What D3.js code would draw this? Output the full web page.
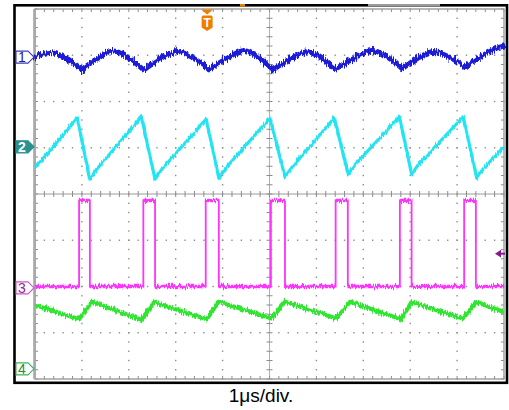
<!DOCTYPE html>
<html><head><meta charset="utf-8">
<script src="https://cdn.jsdelivr.net/npm/d3@7"></script>
<style>html,body{margin:0;padding:0;background:#fff;}svg{display:block}</style>
</head><body>
<svg id="c" width="509" height="410"></svg>
<script>
// ---------- data (time in µs, amplitude in screen divisions) ----------
const timeDomain = [-5, 5];
const divDomain = [-4, 4];
const timeLabel = "1μs/div.";

// Channel 1 (blue)
const ch1 = [[-5.00,2.96],[-4.68,3.06],[-4.34,2.94],[-4.00,2.69],[-3.68,2.92],[-3.34,3.09],[-3.02,2.95],
  [-2.68,2.68],[-2.34,2.92],[-1.97,3.08],[-1.63,2.94],[-1.29,2.69],[-0.93,2.92],[-0.54,3.10],[-0.25,2.96],
  [0.08,2.69],[0.44,2.92],[0.80,3.07],[1.10,2.94],[1.40,2.70],[1.78,2.92],[2.19,3.10],[2.51,2.96],
  [2.83,2.71],[3.17,2.94],[3.49,3.08],[3.83,2.96],[4.17,2.74],[4.49,2.96],[4.81,3.14],[5.00,3.20]];
const ch1Cusps = [-4.00,-2.68,-1.29,0.08,1.40,2.83,4.17];

// Channel 2 (cyan)
const ch2 = [[-5.00,0.56],[-4.10,1.64],[-3.83,0.32],[-3.68,0.54],[-2.73,1.67],[-2.44,0.32],[-2.29,0.54],
  [-1.35,1.62],[-1.08,0.34],[-0.91,0.59],[0.01,1.64],[0.33,0.37],[0.48,0.58],[1.38,1.64],[1.68,0.43],
  [1.82,0.63],[2.77,1.67],[3.03,0.43],[3.17,0.63],[4.13,1.67],[4.42,0.34],[4.55,0.54],[5.00,1.02]];

// Channel 3 (magenta) pulse edges
const ch3Rise = [-4.06,-2.69,-1.36,0.03,1.41,2.78,4.15];
const ch3Fall = [-3.83,-2.44,-1.08,0.33,1.67,3.03,4.40];
const ch3Low = -2.00;
const ch3High = -0.14;

// Channel 4 (green)
const ch4 = [[-5.00,-2.40],[-4.06,-2.71],[-3.79,-2.33],[-2.73,-2.72],[-2.46,-2.34],[-1.34,-2.71],[-1.09,-2.33],
  [0.05,-2.69],[0.33,-2.33],[1.43,-2.69],[1.72,-2.33],[2.80,-2.71],[3.03,-2.34],[4.12,-2.69],[4.42,-2.34],[5.00,-2.55]];

const markerLabels = ["1","2","3","4"];
const markerLevels = [2.96, 1.02, -2.03, -3.78];
const triggerTime = -1.33;
const triggerLevel = -1.29;

// ---------- drawing ----------
const svg = d3.select("#c");
const G = {l:35, r:504, t:9, b:379};
const x = d3.scaleLinear().domain(timeDomain).range([G.l, G.r]);
const y = d3.scaleLinear().domain(divDomain).range([G.b, G.t]);

// noise filters (vertical jitter only)
const defs = svg.append("defs");
function jitter(id, seed, scale){
  const f = defs.append("filter").attr("id", id).attr("filterUnits","userSpaceOnUse")
    .attr("x",0).attr("y",0).attr("width",509).attr("height",410)
    .attr("color-interpolation-filters","sRGB");
  f.append("feTurbulence").attr("type","fractalNoise").attr("baseFrequency","1.1 0.1")
    .attr("numOctaves",2).attr("seed",seed).attr("result","n");
  f.append("feColorMatrix").attr("in","n").attr("type","matrix")
    .attr("values","0 0 0 0 0.5  0 1 0 0 0  0 0 1 0 0  0 0 0 0 1").attr("result","m");
  f.append("feDisplacementMap").attr("in","SourceGraphic").attr("in2","m")
    .attr("scale",scale).attr("xChannelSelector","R").attr("yChannelSelector","G");
}
jitter("j1",3,9); jitter("j2",7,6); jitter("j3",11,7); jitter("j4",17,7);

// outer frame
svg.append("rect").attr("x",14.5).attr("y",5.3).attr("width",492.5).attr("height",377.5)
  .attr("fill","none").attr("stroke","#000").attr("stroke-width",2.6);
svg.append("rect").attr("x",368).attr("y",4).attr("width",72).attr("height",2.4).attr("fill","#9a9a9a");
svg.append("rect").attr("x",240).attr("y",4).attr("width",5).attr("height",2.6).attr("fill","#f07d00");

const grid = svg.append("g");
const minorX = d3.range(-5, 5.0001, 0.2).map(v => +v.toFixed(2));
const minorY = d3.range(-4, 4.0001, 0.2).map(v => +v.toFixed(2));
const majorX = d3.range(-4, 5, 1).filter(v => v !== 0);
const majorY = d3.range(-3, 4, 1).filter(v => v !== 0);
const dotC = "#8c8c8c";
majorX.forEach(mx => minorY.forEach(my => {
  grid.append("rect").attr("x", x(mx)-0.7).attr("y", y(my)-0.7).attr("width",1.4).attr("height",1.4).attr("fill",dotC);
}));
majorY.forEach(my => minorX.forEach(mx => {
  grid.append("rect").attr("x", x(mx)-0.7).attr("y", y(my)-0.7).attr("width",1.4).attr("height",1.4).attr("fill",dotC);
}));
grid.append("line").attr("x1",G.l).attr("x2",G.r).attr("y1",y(0)).attr("y2",y(0)).attr("stroke","#9a9a9a").attr("stroke-width",1);
grid.append("line").attr("y1",G.t).attr("y2",G.b).attr("x1",x(0)).attr("x2",x(0)).attr("stroke","#b0b0b0").attr("stroke-width",1);
minorX.forEach(mx => {
  grid.append("line").attr("x1",x(mx)).attr("x2",x(mx)).attr("y1",y(0)-3).attr("y2",y(0)+3).attr("stroke","#8c8c8c").attr("stroke-width",1);
  grid.append("line").attr("x1",x(mx)).attr("x2",x(mx)).attr("y1",G.t).attr("y2",G.t+3).attr("stroke","#8c8c8c").attr("stroke-width",1);
  grid.append("line").attr("x1",x(mx)).attr("x2",x(mx)).attr("y1",G.b-3).attr("y2",G.b).attr("stroke","#8c8c8c").attr("stroke-width",1);
});
minorY.forEach(my => {
  grid.append("line").attr("y1",y(my)).attr("y2",y(my)).attr("x1",x(0)-3).attr("x2",x(0)+3).attr("stroke","#8c8c8c").attr("stroke-width",1);
  grid.append("line").attr("y1",y(my)).attr("y2",y(my)).attr("x1",G.l).attr("x2",G.l+3).attr("stroke","#8c8c8c").attr("stroke-width",1);
  grid.append("line").attr("y1",y(my)).attr("y2",y(my)).attr("x1",G.r-3).attr("x2",G.r).attr("stroke","#8c8c8c").attr("stroke-width",1);
});
grid.append("rect").attr("x",G.l).attr("y",G.t).attr("width",G.r-G.l).attr("height",G.b-G.t)
  .attr("fill","none").attr("stroke","#9a9a9a").attr("stroke-width",1.4);
grid.append("line").attr("x1",G.l-0.5).attr("x2",G.l-0.5).attr("y1",G.t).attr("y2",G.b).attr("stroke","#a8a8a8").attr("stroke-width",2.6);

// traces
const lineLin = d3.line().x(d => x(d[0])).y(d => y(d[1]));
const lineCurve = d3.line().x(d => x(d[0])).y(d => y(d[1])).curve(d3.curveCatmullRom.alpha(0.5));

const arches = [];
let cur = [];
ch1.forEach(p => {
  cur.push(p);
  if (ch1Cusps.some(c => Math.abs(c - p[0]) < 0.005)) { arches.push(cur); cur = [p]; }
});
if (cur.length > 1) arches.push(cur);
const g1 = svg.append("g").attr("filter","url(#j1)");
arches.forEach(a => g1.append("path").attr("d", lineCurve(a)).attr("fill","none")
  .attr("stroke","#1c1cd8").attr("stroke-width",5).attr("stroke-linejoin","round").attr("stroke-linecap","round"));

svg.append("g").attr("filter","url(#j2)").append("path").attr("d", lineLin(ch2)).attr("fill","none")
  .attr("stroke","#22e4f2").attr("stroke-width",3.2).attr("stroke-linejoin","round");

const ch3 = [[timeDomain[0], ch3Low]];
ch3Rise.forEach((r,i) => { ch3.push([r,ch3Low],[r,ch3High],[ch3Fall[i],ch3High],[ch3Fall[i],ch3Low]); });
ch3.push([timeDomain[1], ch3Low]);
// horizontal levels (thicker noisy band)
const ch3Flat = [];
ch3Rise.forEach((r,i) => {
  ch3Flat.push([[i === 0 ? timeDomain[0] : ch3Fall[i-1], ch3Low],[r, ch3Low]]);
  ch3Flat.push([[r, ch3High],[ch3Fall[i], ch3High]]);
});
ch3Flat.push([[ch3Fall[ch3Fall.length-1], ch3Low],[timeDomain[1], ch3Low]]);
const g3 = svg.append("g").attr("filter","url(#j3)");
g3.append("path").attr("d", lineLin(ch3)).attr("fill","none")
  .attr("stroke","#ff33ff").attr("stroke-width",1.8).attr("stroke-linejoin","miter");
ch3Flat.forEach(s => g3.append("path").attr("d", lineLin(s)).attr("fill","none")
  .attr("stroke","#ff33ff").attr("stroke-width",3.4).attr("stroke-linecap","butt"));

svg.append("g").attr("filter","url(#j4)").append("path").attr("d", lineLin(ch4)).attr("fill","none")
  .attr("stroke","#2ee62e").attr("stroke-width",4.2).attr("stroke-linejoin","round");

// channel markers
const mStyle = [
  {fill:"#fff", stroke:"#3b3bb8", text:"#1c1c9c"},
  {fill:"#2b9090", stroke:"#2b9090", text:"#fff"},
  {fill:"#fff", stroke:"#cc55cc", text:"#8a2a8a"},
  {fill:"#fff", stroke:"#40b060", text:"#2a8a3a"}
];
markerLevels.forEach((lv,i) => {
  const cy = y(lv), s = mStyle[i];
  svg.append("path").attr("d", `M16,${cy-6} L28,${cy-6} L34,${cy} L28,${cy+6} L16,${cy+6} Z`)
    .attr("fill", s.fill).attr("stroke", s.stroke).attr("stroke-width",1.1);
  svg.append("text").attr("x",22).attr("y",cy+5).attr("text-anchor","middle")
    .attr("font-family","Liberation Sans, Arial, sans-serif").attr("font-size",14)
    .attr("font-weight", i===1 ? "bold" : "normal").attr("fill", s.text).text(markerLabels[i]);
});

// trigger marker
const tx = x(triggerTime);
svg.append("path").attr("d", `M${tx-6},9.5 L${tx+6},9.5 L${tx},14.5 Z`).attr("fill","#f07d00");
svg.append("path").attr("d", `M${tx-5.5},17 Q${tx-5.5},15.5 ${tx-4},15.5 L${tx+4},15.5 Q${tx+5.5},15.5 ${tx+5.5},17 L${tx+5.5},27.5 L${tx},31 L${tx-5.5},27.5 Z`).attr("fill","#f07d00");
svg.append("text").attr("x",tx).attr("y",27).attr("text-anchor","middle")
  .attr("font-family","Liberation Sans, Arial, sans-serif").attr("font-size",12).attr("font-weight","bold")
  .attr("fill","#fff").text("T");

// trigger level marker (ch3)
const ty = y(triggerLevel);
svg.append("path").attr("d", `M495,${ty} L501,${ty-3.8} L501,${ty+3.8} Z`).attr("fill","#8a1a8a");
svg.append("rect").attr("x",500).attr("y",ty-1).attr("width",5).attr("height",2).attr("fill","#8a1a8a");

// time base label
svg.append("text").attr("x",261).attr("y",402).attr("text-anchor","middle")
  .attr("font-family","Liberation Sans, Arial, sans-serif").attr("font-size",19).attr("fill","#000").text(timeLabel);
</script>
</body></html>
